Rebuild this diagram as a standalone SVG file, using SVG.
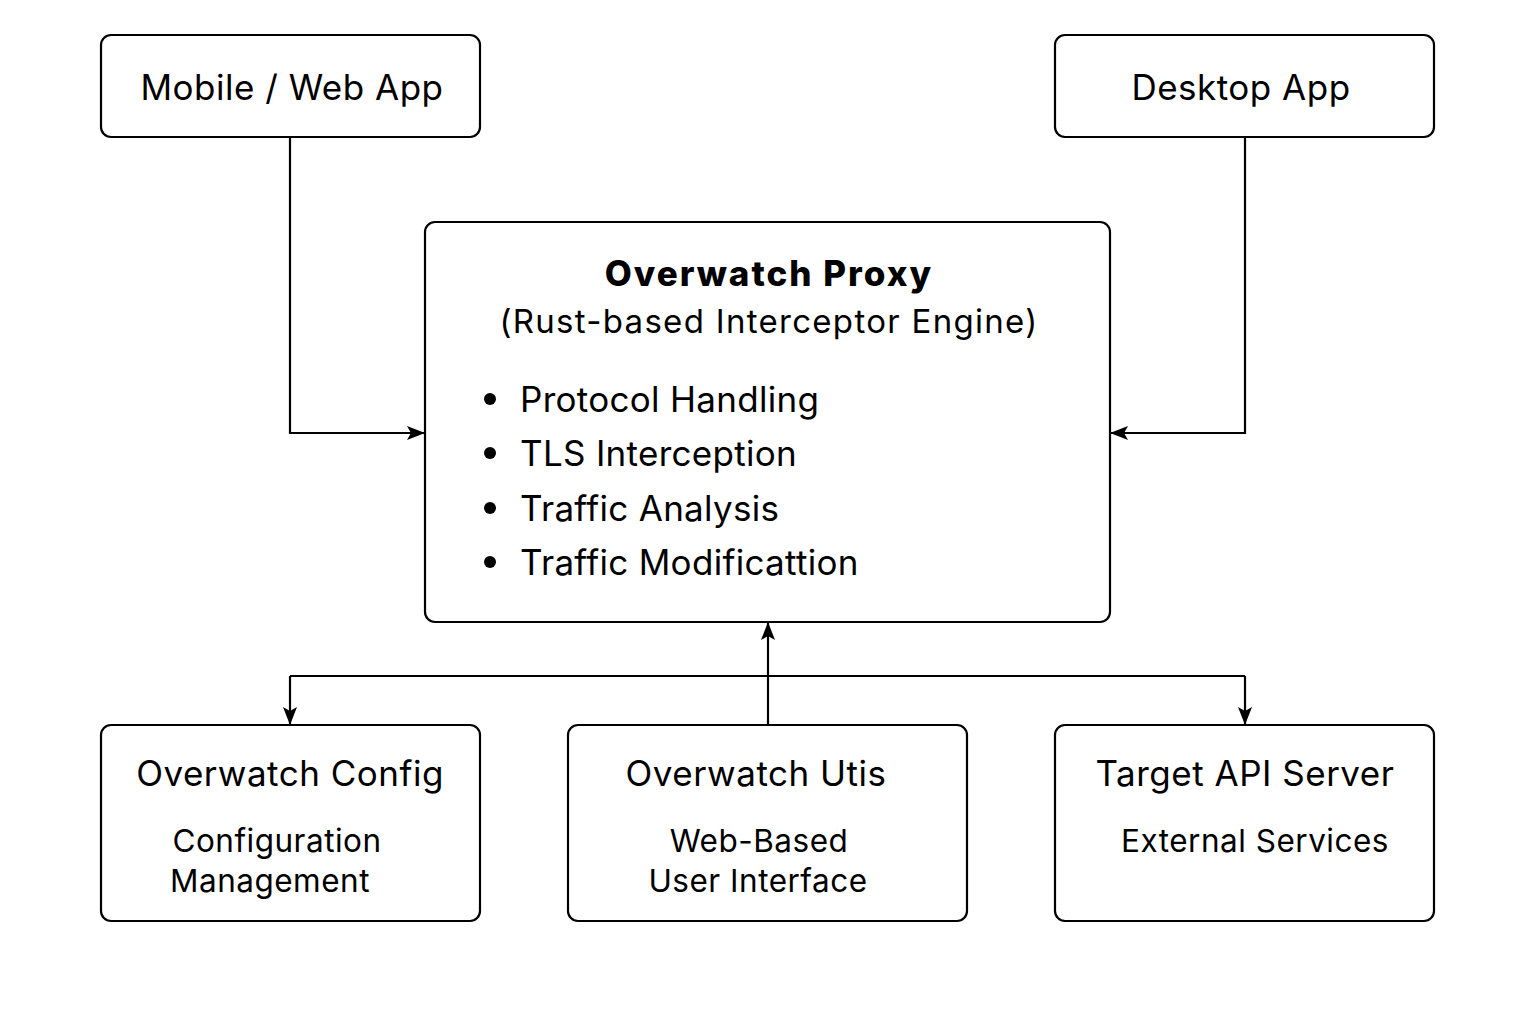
<svg xmlns="http://www.w3.org/2000/svg" width="1536" height="1024" viewBox="0 0 1536 1024">
<style>
.box{fill:#fff;stroke:#000;stroke-width:2.2}
.t{font-family:Inter,"Liberation Sans",Arial,sans-serif;fill:#000;text-anchor:middle}
.h{font-size:35px;letter-spacing:0.5px}
.s{font-size:31.5px;letter-spacing:0.5px}
.b{font-size:35px;letter-spacing:0.3px;text-anchor:start}
.c{fill:none;stroke:#000;stroke-width:2.2}
</style>
<defs>
<marker id="a" viewBox="0 0 18 14" refX="17" refY="7" markerWidth="18" markerHeight="14" markerUnits="userSpaceOnUse" orient="auto">
<path d="M0,0 L18,7 L0,14 L4,7 Z" fill="#000"/>
</marker>
</defs>
<rect width="1536" height="1024" fill="#fff"/>
<g id="connectors">
<path class="c" d="M290,137 V433 H424" marker-end="url(#a)"/>
<path class="c" d="M1245,137 V433 H1111" marker-end="url(#a)"/>
<path class="c" d="M290,676 H1245"/>
<path class="c" d="M290,676 V724" marker-end="url(#a)"/>
<path class="c" d="M1245,676 V724" marker-end="url(#a)"/>
<path class="c" d="M768,725 V623" marker-end="url(#a)"/>
</g>
<g id="mobile">
<rect class="box" x="101" y="35" width="379" height="102" rx="10"/>
<text class="t h" x="292" y="100">Mobile / Web App</text>
</g>
<g id="desktop">
<rect class="box" x="1055" y="35" width="379" height="102" rx="10"/>
<text class="t h" x="1241" y="100">Desktop App</text>
</g>
<g id="proxy">
<rect class="box" x="425" y="222" width="685" height="400" rx="10"/>
<text class="t" x="769" y="286" font-size="35" font-weight="800" letter-spacing="2">Overwatch Proxy</text>
<text class="t" x="769" y="333" font-size="33" letter-spacing="1.3">(Rust-based Interceptor Engine)</text>
<circle cx="490" cy="399" r="6"/>
<circle cx="490" cy="453" r="6"/>
<circle cx="490" cy="508" r="6"/>
<circle cx="490" cy="562" r="6"/>
<text class="t b" x="520" y="412">Protocol Handling</text>
<text class="t b" x="520" y="466">TLS Interception</text>
<text class="t b" x="520" y="521">Traffic Analysis</text>
<text class="t b" x="520" y="575">Traffic Modificattion</text>
</g>
<g id="config">
<rect class="box" x="101" y="725" width="379" height="196" rx="10"/>
<text class="t h" x="290" y="786">Overwatch Config</text>
<text class="t s" x="277" y="852">Configuration</text>
<text class="t s" x="270" y="892">Management</text>
</g>
<g id="utils">
<rect class="box" x="568" y="725" width="399" height="196" rx="10"/>
<text class="t h" x="756" y="786">Overwatch Utis</text>
<text class="t s" x="759" y="852">Web-Based</text>
<text class="t s" x="758" y="892">User Interface</text>
</g>
<g id="target">
<rect class="box" x="1055" y="725" width="379" height="196" rx="10"/>
<text class="t h" x="1245" y="786">Target API Server</text>
<text class="t s" x="1255" y="852">External Services</text>
</g>
</svg>
